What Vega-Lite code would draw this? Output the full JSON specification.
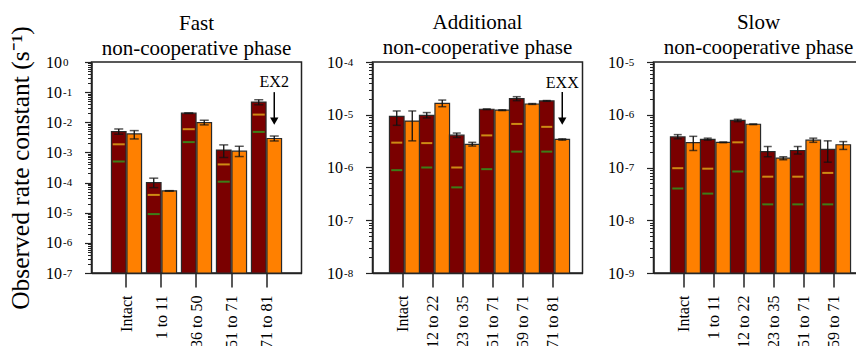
{
  "$schema": "https://vega.github.io/schema/vega-lite/v6.json",
  "background": "white",
  "padding": {"left": 7.5, "top": 11, "right": 0, "bottom": 0},
  "bounds": "flush",
  "spacing": 71,
  "config": {
    "view": {"stroke": "#222", "strokeWidth": 1.5},
    "axis": {"grid": false, "domainColor": "#222", "domainWidth": 1.5, "tickColor": "#222", "tickWidth": 1.2, "labelFont": "Liberation Serif", "labelColor": "#000", "titleFont": "Liberation Serif", "titleColor": "#000", "titleFontWeight": "normal"},
    "title": {"font": "Liberation Serif", "fontSize": 21, "fontWeight": "normal", "lineHeight": 25, "offset": -4, "color": "#000", "anchor": "middle"},
    "text": {"font": "Liberation Serif"}
  },
  "datasets": {
    "fast": [
      {"cat": "Intact", "s": "A", "v": 0.0049, "lo": 0.004, "hi": 0.006, "yel": 0.00186, "grn": 0.0005},
      {"cat": "Intact", "s": "B", "v": 0.0041, "lo": 0.0028, "hi": 0.0053},
      {"cat": "1 to 11", "s": "A", "v": 0.0001, "lo": 0.000068, "hi": 0.00014, "yel": 0.000039, "grn": 0.000009},
      {"cat": "1 to 11", "s": "B", "v": 0.000053, "lo": 0.000052, "hi": 0.000054},
      {"cat": "36 to 50", "s": "A", "v": 0.02, "lo": 0.0195, "hi": 0.0205, "yel": 0.0059, "grn": 0.0022},
      {"cat": "36 to 50", "s": "B", "v": 0.0098, "lo": 0.0082, "hi": 0.0117},
      {"cat": "51 to 71", "s": "A", "v": 0.0012, "lo": 0.00068, "hi": 0.00178, "yel": 0.0004, "grn": 0.000107},
      {"cat": "51 to 71", "s": "B", "v": 0.0011, "lo": 0.00073, "hi": 0.0016},
      {"cat": "71 to 81", "s": "A", "v": 0.047, "lo": 0.038, "hi": 0.056, "yel": 0.018, "grn": 0.0048},
      {"cat": "71 to 81", "s": "B", "v": 0.0029, "lo": 0.0024, "hi": 0.0035}
    ],
    "add": [
      {"cat": "Intact", "s": "A", "v": 9.3e-6, "lo": 6.3e-6, "hi": 1.18e-5, "yel": 2.96e-6, "grn": 8.9e-7},
      {"cat": "Intact", "s": "B", "v": 7.6e-6, "lo": 3.2e-6, "hi": 1.18e-5},
      {"cat": "12 to 22", "s": "A", "v": 9.7e-6, "lo": 8.7e-6, "hi": 1.1e-5, "yel": 2.9e-6, "grn": 1e-6},
      {"cat": "12 to 22", "s": "B", "v": 1.65e-5, "lo": 1.42e-5, "hi": 1.9e-5},
      {"cat": "23 to 35", "s": "A", "v": 4.1e-6, "lo": 3.7e-6, "hi": 4.5e-6, "yel": 1e-6, "grn": 4.2e-7},
      {"cat": "23 to 35", "s": "B", "v": 2.75e-6, "lo": 2.55e-6, "hi": 3e-6},
      {"cat": "51 to 71", "s": "A", "v": 1.27e-5, "lo": 1.25e-5, "hi": 1.29e-5, "yel": 4.06e-6, "grn": 9.3e-7},
      {"cat": "51 to 71", "s": "B", "v": 1.22e-5, "lo": 1.2e-5, "hi": 1.24e-5},
      {"cat": "59 to 71", "s": "A", "v": 2.03e-5, "lo": 1.85e-5, "hi": 2.2e-5, "yel": 6.7e-6, "grn": 2e-6},
      {"cat": "59 to 71", "s": "B", "v": 1.6e-5, "lo": 1.57e-5, "hi": 1.63e-5},
      {"cat": "71 to 81", "s": "A", "v": 1.83e-5, "lo": 1.8e-5, "hi": 1.86e-5, "yel": 5.9e-6, "grn": 2e-6},
      {"cat": "71 to 81", "s": "B", "v": 3.4e-6, "lo": 3.3e-6, "hi": 3.5e-6}
    ],
    "slow": [
      {"cat": "Intact", "s": "A", "v": 3.8e-7, "lo": 3.5e-7, "hi": 4.2e-7, "yel": 9.7e-8, "grn": 4e-8},
      {"cat": "Intact", "s": "B", "v": 2.95e-7, "lo": 2.1e-7, "hi": 3.9e-7},
      {"cat": "1 to 11", "s": "A", "v": 3.4e-7, "lo": 3.3e-7, "hi": 3.6e-7, "yel": 9.5e-8, "grn": 3.2e-8},
      {"cat": "1 to 11", "s": "B", "v": 3.0e-7, "lo": 2.95e-7, "hi": 3.05e-7},
      {"cat": "12 to 22", "s": "A", "v": 7.8e-7, "lo": 7.4e-7, "hi": 8.2e-7, "yel": 3e-7, "grn": 8.4e-8},
      {"cat": "12 to 22", "s": "B", "v": 6.6e-7, "lo": 6.5e-7, "hi": 6.7e-7},
      {"cat": "23 to 35", "s": "A", "v": 2e-7, "lo": 1.6e-7, "hi": 2.5e-7, "yel": 6.7e-8, "grn": 2e-8},
      {"cat": "23 to 35", "s": "B", "v": 1.5e-7, "lo": 1.4e-7, "hi": 1.6e-7},
      {"cat": "51 to 71", "s": "A", "v": 2.1e-7, "lo": 1.8e-7, "hi": 2.5e-7, "yel": 6.7e-8, "grn": 2e-8},
      {"cat": "51 to 71", "s": "B", "v": 3.3e-7, "lo": 3e-7, "hi": 3.6e-7},
      {"cat": "59 to 71", "s": "A", "v": 2.2e-7, "lo": 1.26e-7, "hi": 3.2e-7, "yel": 7.9e-8, "grn": 2e-8},
      {"cat": "59 to 71", "s": "B", "v": 2.7e-7, "lo": 2.2e-7, "hi": 3.1e-7}
    ],
    "ann1": [{"cat": "71 to 81", "s": "B", "top": 0.1, "head": 0.011, "ty": 0.148, "label": "EX2"}],
    "ann2": [{"cat": "71 to 81", "s": "B", "top": 2.7e-5, "head": 7.6e-6, "ty": 3.2e-5, "label": "EXX"}]
  },
  "hconcat": [
    {
      "width": 210, "height": 211,
      "title": {"text": ["Fast", "non-cooperative phase"], "offset": -33},
      "data": {"name": "fast"},
      "encoding": {
        "x": {"field": "cat", "type": "nominal", "sort": ["Intact", "1 to 11", "36 to 50", "51 to 71", "71 to 81"], "title": null,
              "scale": {"paddingInner": 0.14, "paddingOuter": 0.57},
              "axis": {"labelAngle": -90, "labelFontSize": 16, "tickSize": 14, "tickWidth": 1.5, "labelPadding": 8}},
        "xOffset": {"field": "s", "type": "nominal", "scale": {"domain": ["A", "B"], "paddingInner": 0.06, "paddingOuter": 0}}
      },
      "layer": [
        {"mark": {"type": "bar", "stroke": "#2a2a2a", "strokeWidth": 1.2},
         "encoding": {
           "y": {"field": "v", "type": "quantitative", "scale": {"type": "log", "domain": [1e-7, 1], "nice": false},
                 "axis": {"orient": "left", "values": [1e-7, 1e-6, 1e-5, 1e-4, 1e-3, 1e-2, 1e-1, 1], "labelExpr": "'10'", "labelAlign": "right", "labelBaseline": "middle", "labelFontSize": 16, "labelPadding": 23, "tickSize": 7, "title": "Observed rate constant (s⁻¹)", "titleFontSize": 25.5, "titlePadding": 12}},
           "y2": {"datum": 1e-7},
           "color": {"field": "s", "type": "nominal", "scale": {"domain": ["A", "B"], "range": ["#7a0000", "#ff8000"]}, "legend": null}
         }},
        {"mark": {"type": "rule", "color": "#111", "strokeWidth": 1.3},
         "encoding": {
           "y": {"field": "lo", "type": "quantitative",
                 "axis": {"orient": "left", "values": [1e-7, 1e-6, 1e-5, 1e-4, 1e-3, 1e-2, 1e-1, 1], "labelExpr": "'' + round(log(datum.value) / LN10)", "labelAlign": "left", "labelBaseline": "middle", "labelDy": -5, "labelFontSize": 11, "labelPadding": 22, "tickSize": 7, "tickOpacity": 0, "domain": false, "title": null}},
           "y2": {"field": "hi"}
         }},
        {"mark": {"type": "tick", "color": "#111", "thickness": 1.5, "size": 9},
         "encoding": {
           "y": {"field": "hi", "type": "quantitative",
                 "axis": {"orient": "left", "values": [2e-7,3e-7,4e-7,5e-7,6e-7,7e-7,8e-7,9e-7,2e-6,3e-6,4e-6,5e-6,6e-6,7e-6,8e-6,9e-6,2e-5,3e-5,4e-5,5e-5,6e-5,7e-5,8e-5,9e-5,2e-4,3e-4,4e-4,5e-4,6e-4,7e-4,8e-4,9e-4,2e-3,3e-3,4e-3,5e-3,6e-3,7e-3,8e-3,9e-3,2e-2,3e-2,4e-2,5e-2,6e-2,7e-2,8e-2,9e-2,0.2,0.3,0.4,0.5,0.6,0.7,0.8,0.9], "labels": false, "domain": false, "tickSize": 4, "tickWidth": 1, "title": null}}
         }},
        {"mark": {"type": "tick", "color": "#111", "thickness": 1.5, "size": 9},
         "encoding": {"y": {"field": "lo", "type": "quantitative", "axis": null}}},
        {"mark": {"type": "tick", "color": "#f2c41c", "thickness": 2, "size": 12},
         "encoding": {"y": {"field": "yel", "type": "quantitative", "axis": null}}},
        {"mark": {"type": "tick", "color": "#22b322", "thickness": 2, "size": 12},
         "encoding": {"y": {"field": "grn", "type": "quantitative", "axis": null}}},
        {"data": {"name": "ann1"}, "mark": {"type": "rule", "color": "#000", "strokeWidth": 1.5},
         "encoding": {"y": {"field": "top", "type": "quantitative", "axis": null}, "y2": {"field": "head"}}},
        {"data": {"name": "ann1"}, "mark": {"type": "point", "shape": "triangle-down", "filled": true, "color": "#000", "size": 70, "opacity": 1},
         "encoding": {"y": {"field": "head", "type": "quantitative", "axis": null}}},
        {"data": {"name": "ann1"}, "mark": {"type": "text", "fontSize": 16, "baseline": "alphabetic", "align": "center", "color": "#000"},
         "encoding": {"y": {"field": "ty", "type": "quantitative", "axis": null}, "text": {"field": "label"}}}
      ],
      "resolve": {"axis": {"y": "independent"}}
    },
    {
      "width": 210, "height": 211,
      "title": {"text": ["Additional", "non-cooperative phase"]},
      "data": {"name": "add"},
      "encoding": {
        "x": {"field": "cat", "type": "nominal", "sort": ["Intact", "12 to 22", "23 to 35", "51 to 71", "59 to 71", "71 to 81"], "title": null,
              "scale": {"paddingInner": 0.13, "paddingOuter": 0.565},
              "axis": {"labelAngle": -90, "labelFontSize": 16, "tickSize": 14, "tickWidth": 1.5, "labelPadding": 8}},
        "xOffset": {"field": "s", "type": "nominal", "scale": {"domain": ["A", "B"], "paddingInner": 0.06, "paddingOuter": 0}}
      },
      "layer": [
        {"mark": {"type": "bar", "stroke": "#2a2a2a", "strokeWidth": 1.2},
         "encoding": {
           "y": {"field": "v", "type": "quantitative", "scale": {"type": "log", "domain": [1e-8, 1e-4], "nice": false},
                 "axis": {"orient": "left", "values": [1e-8, 1e-7, 1e-6, 1e-5, 1e-4], "labelExpr": "'10'", "labelAlign": "right", "labelBaseline": "middle", "labelFontSize": 16, "labelPadding": 23, "tickSize": 7, "title": null}},
           "y2": {"datum": 1e-8},
           "color": {"field": "s", "type": "nominal", "scale": {"domain": ["A", "B"], "range": ["#7a0000", "#ff8000"]}, "legend": null}
         }},
        {"mark": {"type": "rule", "color": "#111", "strokeWidth": 1.3},
         "encoding": {
           "y": {"field": "lo", "type": "quantitative",
                 "axis": {"orient": "left", "values": [1e-8, 1e-7, 1e-6, 1e-5, 1e-4], "labelExpr": "'' + round(log(datum.value) / LN10)", "labelAlign": "left", "labelBaseline": "middle", "labelDy": -5, "labelFontSize": 11, "labelPadding": 22, "tickSize": 7, "tickOpacity": 0, "domain": false, "title": null}},
           "y2": {"field": "hi"}
         }},
        {"mark": {"type": "tick", "color": "#111", "thickness": 1.5, "size": 8},
         "encoding": {
           "y": {"field": "hi", "type": "quantitative",
                 "axis": {"orient": "left", "values": [2e-8,3e-8,4e-8,5e-8,6e-8,7e-8,8e-8,9e-8,2e-7,3e-7,4e-7,5e-7,6e-7,7e-7,8e-7,9e-7,2e-6,3e-6,4e-6,5e-6,6e-6,7e-6,8e-6,9e-6,2e-5,3e-5,4e-5,5e-5,6e-5,7e-5,8e-5,9e-5], "labels": false, "domain": false, "tickSize": 4, "tickWidth": 1, "title": null}}
         }},
        {"mark": {"type": "tick", "color": "#111", "thickness": 1.5, "size": 8},
         "encoding": {"y": {"field": "lo", "type": "quantitative", "axis": null}}},
        {"mark": {"type": "tick", "color": "#f2c41c", "thickness": 2, "size": 11},
         "encoding": {"y": {"field": "yel", "type": "quantitative", "axis": null}}},
        {"mark": {"type": "tick", "color": "#22b322", "thickness": 2, "size": 11},
         "encoding": {"y": {"field": "grn", "type": "quantitative", "axis": null}}},
        {"data": {"name": "ann2"}, "mark": {"type": "rule", "color": "#000", "strokeWidth": 1.5},
         "encoding": {"y": {"field": "top", "type": "quantitative", "axis": null}, "y2": {"field": "head"}}},
        {"data": {"name": "ann2"}, "mark": {"type": "point", "shape": "triangle-down", "filled": true, "color": "#000", "size": 70, "opacity": 1},
         "encoding": {"y": {"field": "head", "type": "quantitative", "axis": null}}},
        {"data": {"name": "ann2"}, "mark": {"type": "text", "fontSize": 16, "baseline": "alphabetic", "align": "center", "color": "#000"},
         "encoding": {"y": {"field": "ty", "type": "quantitative", "axis": null}, "text": {"field": "label"}}}
      ],
      "resolve": {"axis": {"y": "independent"}}
    },
    {
      "width": 210, "height": 211,
      "title": {"text": ["Slow", "non-cooperative phase"]},
      "data": {"name": "slow"},
      "encoding": {
        "x": {"field": "cat", "type": "nominal", "sort": ["Intact", "1 to 11", "12 to 22", "23 to 35", "51 to 71", "59 to 71"], "title": null,
              "scale": {"paddingInner": 0.13, "paddingOuter": 0.565},
              "axis": {"labelAngle": -90, "labelFontSize": 16, "tickSize": 14, "tickWidth": 1.5, "labelPadding": 8}},
        "xOffset": {"field": "s", "type": "nominal", "scale": {"domain": ["A", "B"], "paddingInner": 0.06, "paddingOuter": 0}}
      },
      "layer": [
        {"mark": {"type": "bar", "stroke": "#2a2a2a", "strokeWidth": 1.2},
         "encoding": {
           "y": {"field": "v", "type": "quantitative", "scale": {"type": "log", "domain": [1e-9, 1e-5], "nice": false},
                 "axis": {"orient": "left", "values": [1e-9, 1e-8, 1e-7, 1e-6, 1e-5], "labelExpr": "'10'", "labelAlign": "right", "labelBaseline": "middle", "labelFontSize": 16, "labelPadding": 23, "tickSize": 7, "title": null}},
           "y2": {"datum": 1e-9},
           "color": {"field": "s", "type": "nominal", "scale": {"domain": ["A", "B"], "range": ["#7a0000", "#ff8000"]}, "legend": null}
         }},
        {"mark": {"type": "rule", "color": "#111", "strokeWidth": 1.3},
         "encoding": {
           "y": {"field": "lo", "type": "quantitative",
                 "axis": {"orient": "left", "values": [1e-9, 1e-8, 1e-7, 1e-6, 1e-5], "labelExpr": "'' + round(log(datum.value) / LN10)", "labelAlign": "left", "labelBaseline": "middle", "labelDy": -5, "labelFontSize": 11, "labelPadding": 22, "tickSize": 7, "tickOpacity": 0, "domain": false, "title": null}},
           "y2": {"field": "hi"}
         }},
        {"mark": {"type": "tick", "color": "#111", "thickness": 1.5, "size": 8},
         "encoding": {
           "y": {"field": "hi", "type": "quantitative",
                 "axis": {"orient": "left", "values": [2e-9,3e-9,4e-9,5e-9,6e-9,7e-9,8e-9,9e-9,2e-8,3e-8,4e-8,5e-8,6e-8,7e-8,8e-8,9e-8,2e-7,3e-7,4e-7,5e-7,6e-7,7e-7,8e-7,9e-7,2e-6,3e-6,4e-6,5e-6,6e-6,7e-6,8e-6,9e-6], "labels": false, "domain": false, "tickSize": 4, "tickWidth": 1, "title": null}}
         }},
        {"mark": {"type": "tick", "color": "#111", "thickness": 1.5, "size": 8},
         "encoding": {"y": {"field": "lo", "type": "quantitative", "axis": null}}},
        {"mark": {"type": "tick", "color": "#f2c41c", "thickness": 2, "size": 11},
         "encoding": {"y": {"field": "yel", "type": "quantitative", "axis": null}}},
        {"mark": {"type": "tick", "color": "#22b322", "thickness": 2, "size": 11},
         "encoding": {"y": {"field": "grn", "type": "quantitative", "axis": null}}}
      ],
      "resolve": {"axis": {"y": "independent"}}
    }
  ]
}
